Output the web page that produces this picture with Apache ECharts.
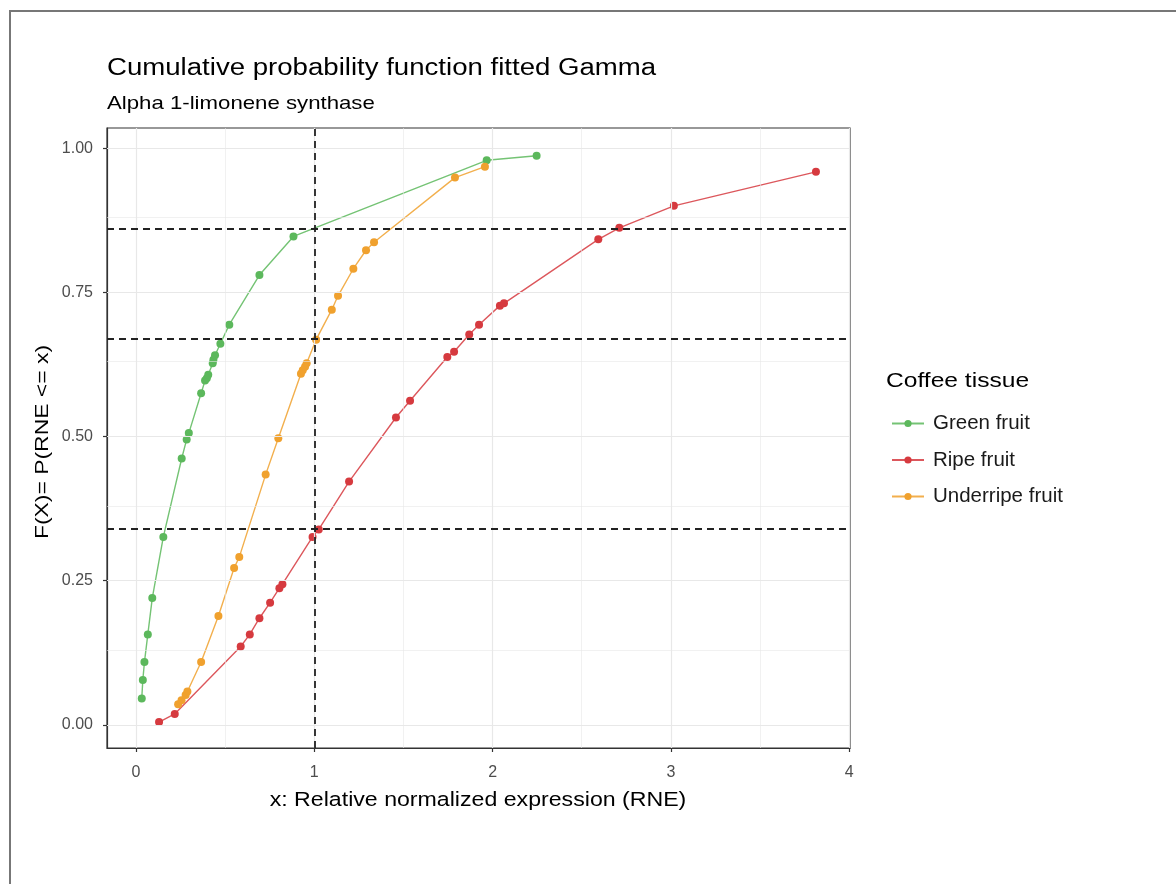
<!DOCTYPE html>
<html>
<head>
    <meta charset="utf-8">
    <title>Cumulative probability function fitted Gamma</title>
    <script src="https://cdn.jsdelivr.net/npm/echarts@6/dist/echarts.min.js"></script>
    <style>
        body { margin: 0; background: #fff; }
        #chart { width: 1176px; height: 884px; }
        /* 截图外框 */
        #frame { position: absolute; left: 9px; top: 10px; width: 1167px; height: 874px;
                 border-top: 2px solid #777; border-left: 2px solid #777; pointer-events: none; }
    </style>
</head>
<body>
<div id="chart"></div>
<div id="frame"></div>
<script type="text/javascript">

    // 数据
    var greenX = [0.032, 0.038, 0.047, 0.066, 0.091, 0.153, 0.256, 0.284, 0.296, 0.365, 0.387, 0.397, 0.405, 0.430, 0.434, 0.443, 0.473, 0.523, 0.692, 0.883, 1.967, 2.247];
    var greenY = [0.046, 0.078, 0.109, 0.157, 0.220, 0.326, 0.462, 0.495, 0.506, 0.575, 0.597, 0.601, 0.607, 0.627, 0.633, 0.641, 0.661, 0.694, 0.780, 0.847, 0.979, 0.987];

    var ripeX = [0.129, 0.217, 0.587, 0.638, 0.692, 0.752, 0.804, 0.821, 0.990, 1.025, 1.195, 1.458, 1.537, 1.746, 1.784, 1.869, 1.924, 2.041, 2.064, 2.593, 2.711, 3.017, 3.814];
    var ripeY = [0.005, 0.019, 0.136, 0.157, 0.185, 0.212, 0.237, 0.244, 0.326, 0.339, 0.422, 0.533, 0.562, 0.638, 0.647, 0.677, 0.694, 0.727, 0.731, 0.842, 0.862, 0.900, 0.959];

    var underX = [0.236, 0.255, 0.278, 0.288, 0.365, 0.462, 0.550, 0.579, 0.727, 0.798, 0.925, 0.935, 0.948, 0.957, 1.010, 1.098, 1.133, 1.219, 1.290, 1.335, 1.789, 1.957];
    var underY = [0.036, 0.043, 0.052, 0.058, 0.109, 0.189, 0.272, 0.291, 0.434, 0.497, 0.609, 0.615, 0.621, 0.627, 0.668, 0.720, 0.744, 0.791, 0.823, 0.837, 0.949, 0.968];

    var seriesNames = ['Green fruit', 'Ripe fruit', 'Underripe fruit'];
    var seriesColors = ['#5cb85c', '#d63a3f', '#f0a12e'];

    // 参考线
    var refX = [1];
    var refY = [0.336, 0.669, 0.862];

    // 坐标轴
    var xTicks = [0, 1, 2, 3, 4];
    var xMinor = [0.5, 1.5, 2.5, 3.5];
    var yTicks = [0, 0.25, 0.5, 0.75, 1];
    var yMinor = [0.125, 0.375, 0.625, 0.875];
    var xRange = [-0.163, 4.005];
    var yRange = [-0.04, 1.035];

    function pairs(xs, ys) {
        return xs.map(function (x, i) { return [x, ys[i]]; });
    }

    var font = 'Liberation Sans, Arial, sans-serif';
    var SX = 1.2; // 原图文字横向略宽

    function label(text, x, y, size, align, rot) {
        return {
            type: 'text', x: x, y: y, rotation: rot || 0, scaleX: SX, silent: true,
            style: {
                text: text, fill: '#000', fontSize: size, fontFamily: font,
                align: align, verticalAlign: 'middle'
            }
        };
    }

    var gridLines = []
        .concat(xMinor.map(function (v) { return { xAxis: v, lineStyle: { width: 0.6 } }; }))
        .concat(yMinor.map(function (v) { return { yAxis: v, lineStyle: { width: 0.6 } }; }))
        .concat(xTicks.map(function (v) { return { xAxis: v }; }))
        .concat(yTicks.map(function (v) { return { yAxis: v }; }));

    var refLines = []
        .concat(refX.map(function (v) { return { xAxis: v }; }))
        .concat(refY.map(function (v) { return { yAxis: v }; }));

    var allData = [pairs(greenX, greenY), pairs(ripeX, ripeY), pairs(underX, underY)];

    var series = [{
        // 网格线
        type: 'line', data: [], silent: true, z: 1,
        markLine: {
            silent: true, symbol: 'none', label: { show: false },
            lineStyle: { color: '#e8e8e8', width: 1.2, type: 'solid' },
            emphasis: { disabled: true },
            data: gridLines
        }
    }];

    seriesNames.forEach(function (name, i) {
        series.push({
            name: name,
            type: 'line',
            data: allData[i],
            z: 3,
            symbol: 'circle',
            symbolSize: 8,
            showSymbol: true,
            itemStyle: { color: seriesColors[i] },
            lineStyle: { color: seriesColors[i], width: 1.4, opacity: 0.85 },
            emphasis: { disabled: true }
        });
    });

    series.push({
        // 虚线
        type: 'line', data: [], silent: true, z: 5,
        markLine: {
            silent: true, symbol: 'none', label: { show: false },
            lineStyle: { color: '#222', width: 1.8, type: [7, 5] },
            emphasis: { disabled: true },
            data: refLines
        }
    });

    var myChart = echarts.init(document.getElementById('chart'));

    myChart.setOption({
        backgroundColor: '#fff',
        animation: false,
        textStyle: { fontFamily: font },
        graphic: [
            label('Cumulative probability function fitted Gamma', 107, 69, 23, 'left'),
            label('Alpha 1-limonene synthase', 107, 104, 18.5, 'left'),
            label('Coffee tissue', 886, 381, 20.5, 'left'),
            label('x: Relative normalized expression (RNE)', 478, 801, 19.3, 'center'),
            label('F(X)= P(RNE <= x)', 43, 442, 19.1, 'center', Math.PI / 2)
        ],
        legend: {
            orient: 'vertical',
            left: 886, top: 408,
            itemWidth: 32, itemHeight: 9, itemGap: 15.5,
            data: seriesNames,
            textStyle: { fontSize: 20.5, color: '#1a1a1a', fontFamily: font, lineHeight: 21, padding: [0, 0, 0, 4] }
        },
        grid: {
            left: 107, right: 326, top: 128, bottom: 136,
            show: true, borderColor: '#333', borderWidth: 1.2, backgroundColor: '#fff'
        },
        xAxis: {
            type: 'value',
            min: xRange[0], max: xRange[1],
            axisLine: { show: true, onZero: false, lineStyle: { color: '#333', width: 1.2 } },
            axisTick: { show: true, length: 4, customValues: xTicks, lineStyle: { color: '#333', width: 1.2 } },
            axisLabel: { customValues: xTicks, margin: 17, fontSize: 16, color: '#4d4d4d', fontFamily: font },
            splitLine: { show: false }
        },
        yAxis: {
            type: 'value',
            min: yRange[0], max: yRange[1],
            axisLine: { show: true, onZero: false, lineStyle: { color: '#333', width: 1.2 } },
            axisTick: { show: true, length: 4, customValues: yTicks, lineStyle: { color: '#333', width: 1.2 } },
            axisLabel: {
                customValues: yTicks, margin: 14, fontSize: 16, color: '#4d4d4d', fontFamily: font,
                formatter: function (v) { return v.toFixed(2); }
            },
            splitLine: { show: false }
        },
        series: series
    });

</script>
</body>
</html>
